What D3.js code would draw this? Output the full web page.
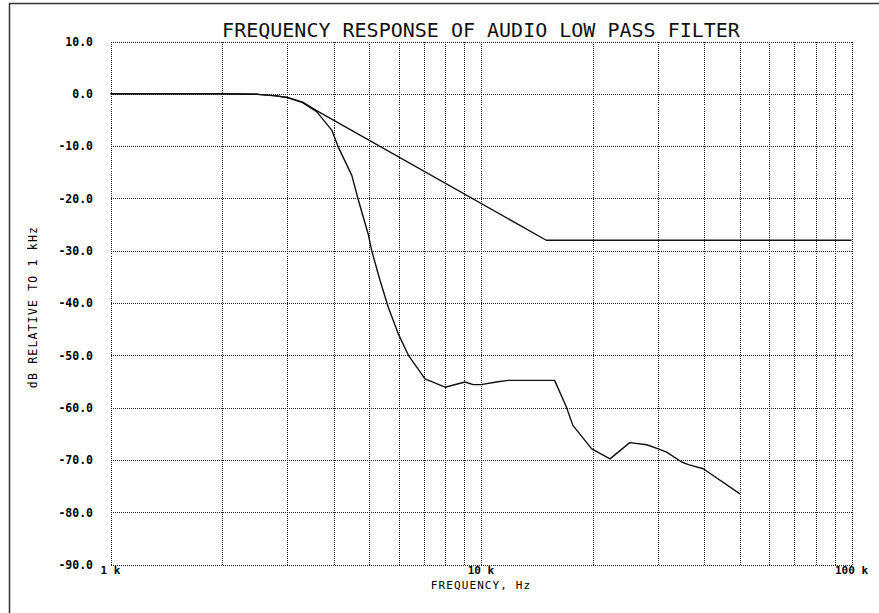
<!DOCTYPE html>
<html>
<head>
<meta charset="utf-8">
<script src="https://cdn.jsdelivr.net/npm/d3@7"></script>
<style>
  body { margin: 0; background: #fff; }
  svg { display: block; }
  text { font-family: "DejaVu Sans Mono", "Liberation Mono", monospace; fill: #000; }
</style>
</head>
<body>
<svg id="chart" width="879" height="613"></svg>
<script>
// ===== DATA =====
// frequency in kHz, level in dB relative to 1 kHz
const referenceFreq = [1, 2, 2.5, 2.8, 3, 3.3, 3.6, 15, 100];
const referenceDb   = [0, 0, -0.1, -0.4, -0.7, -1.6, -3.2, -28, -28];

const filterFreq = [1, 2, 2.5, 2.8, 3, 3.3, 3.6, 3.96, 4.12, 4.48, 4.67, 4.96, 5.07, 5.34, 5.62, 5.98,
                    6.37, 7.06, 8.0, 9.05, 9.53, 10.0, 11.0, 11.85, 15.8, 17.0, 17.7, 19.9, 22.3,
                    25.2, 28.0, 30.1, 31.7, 34.8, 36.3, 39.8, 50];
const filterDb   = [0, 0, -0.1, -0.4, -0.7, -1.7, -3.4, -7.0, -10.2, -15.6, -20.4, -26.8, -30.0, -35.7, -40.8, -45.9,
                    -50.0, -54.5, -56.1, -55.1, -55.6, -55.6, -55.1, -54.8, -54.8, -59.9, -63.4, -67.9, -69.8,
                    -66.7, -67.1, -67.9, -68.5, -70.4, -70.9, -71.7, -76.5];

const yTicks = [10, 0, -10, -20, -30, -40, -50, -60, -70, -80, -90];
const xGrid = [1, 2, 3, 4, 5, 6, 7, 8, 9, 10, 20, 30, 40, 50, 60, 70, 80, 90, 100];
const xLabels = [[1, '1 k'], [10, '10 k'], [100, '100 k']];

const titleText = 'FREQUENCY RESPONSE OF AUDIO LOW PASS FILTER';
const xTitle = 'FREQUENCY, Hz';
const yTitle = 'dB RELATIVE TO 1 kHz';

// ===== LAYOUT =====
const plot = { left: 110.5, right: 851.5, top: 41.5, bottom: 564.5 };

const svg = d3.select('#chart');

// outer frame (only top and left edges fall inside the picture)
svg.append('rect')
    .attr('x', 9.5).attr('y', 3.5)
    .attr('width', 900).attr('height', 700)
    .attr('fill', 'none')
    .attr('stroke', '#333')
    .attr('stroke-width', 1.5);

const x = d3.scaleLog().domain([1, 100]).range([plot.left, plot.right]);
const y = d3.scaleLinear().domain([-90, 10]).range([plot.bottom, plot.top]);

// ===== GRID =====
const grid = svg.append('g')
    .attr('stroke', '#222')
    .attr('stroke-width', 1)
    .attr('stroke-dasharray', '1,1')
    .attr('shape-rendering', 'crispEdges');

grid.selectAll('line.v')
    .data(xGrid)
    .join('line')
    .attr('class', 'v')
    .attr('x1', d => Math.round(x(d)) + 0.5)
    .attr('x2', d => Math.round(x(d)) + 0.5)
    .attr('y1', plot.top)
    .attr('y2', plot.bottom);

grid.selectAll('line.h')
    .data(yTicks)
    .join('line')
    .attr('class', 'h')
    .attr('x1', plot.left)
    .attr('x2', plot.right)
    .attr('y1', d => Math.round(y(d)) + 0.5)
    .attr('y2', d => Math.round(y(d)) + 0.5);

// ===== AXIS LABELS =====
svg.append('g').selectAll('text')
    .data(yTicks)
    .join('text')
    .attr('x', 93)
    .attr('y', d => y(d))
    .attr('dy', '0.38em')
    .attr('text-anchor', 'end')
    .style('font-size', '11.5px')
    .style('font-weight', 'bold')
    .text(d => d.toFixed(1));

svg.append('g').selectAll('text')
    .data(xLabels)
    .join('text')
    .attr('x', d => x(d[0]))
    .attr('y', 574)
    .attr('text-anchor', 'middle')
    .style('font-size', '11px')
    .style('font-weight', 'bold')
    .text(d => d[1]);

svg.append('text')
    .attr('x', 481)
    .attr('y', 589)
    .attr('text-anchor', 'middle')
    .style('font-size', '11px')
    .style('letter-spacing', '1.1px')
    .text(xTitle);

svg.append('text')
    .attr('transform', 'translate(37,307) rotate(-90)')
    .attr('text-anchor', 'middle')
    .style('font-size', '11.5px')
    .style('letter-spacing', '1.2px')
    .text(yTitle);

svg.append('text')
    .attr('x', 481)
    .attr('y', 36.5)
    .attr('text-anchor', 'middle')
    .style('font-size', '20px')
    .style('font-weight', '300')
    .style('fill', '#111')
    .text(titleText);

// ===== CURVES =====
const line = d3.line()
    .x(d => x(d[0]))
    .y(d => y(d[1]));

const curves = [
    d3.zip(referenceFreq, referenceDb),
    d3.zip(filterFreq, filterDb)
];

svg.append('g').selectAll('path')
    .data(curves)
    .join('path')
    .attr('d', line)
    .attr('fill', 'none')
    .attr('stroke', '#111')
    .attr('stroke-width', 1.4)
    .attr('stroke-linejoin', 'round');
</script>
</body>
</html>
